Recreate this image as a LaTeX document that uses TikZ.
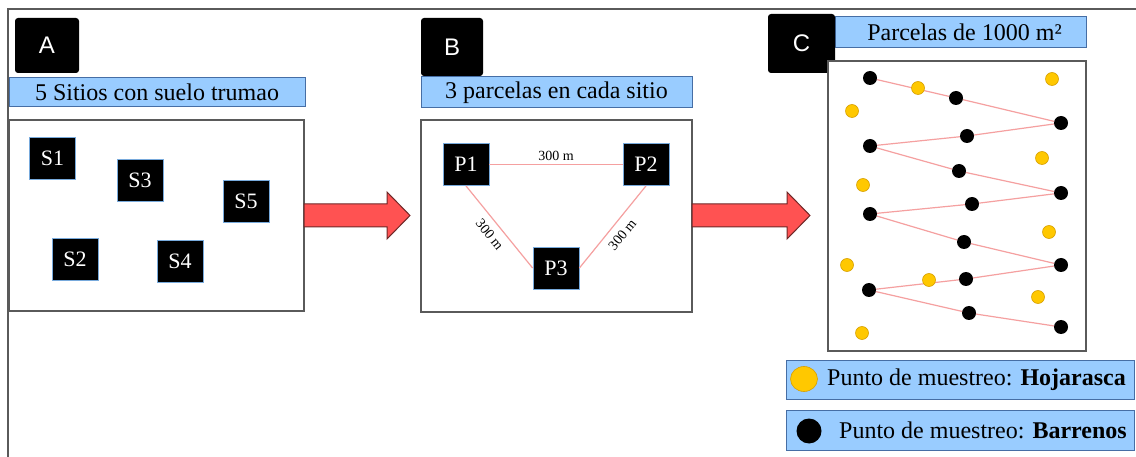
\documentclass[tikz,border=0pt]{standalone}
\usepackage{fontspec}
\usetikzlibrary{shapes.geometric}
\setmainfont{Liberation Serif}
\newfontfamily\arialf{Liberation Sans}
\definecolor{barfill}{RGB}{153,204,255}
\definecolor{bardraw}{RGB}{70,110,165}
\definecolor{sqdraw}{RGB}{120,170,220}
\definecolor{framec}{RGB}{90,90,90}
\definecolor{arrowfill}{RGB}{255,82,82}
\definecolor{arrowdraw}{RGB}{110,40,40}
\definecolor{linkc}{RGB}{245,160,160}
\definecolor{yelfill}{RGB}{255,200,0}
\definecolor{yeldraw}{RGB}{215,160,0}
\tikzset{
 letterbox/.style={fill=black, rounded corners=3pt, text=white, font=\arialf\fontsize{24}{28}\selectfont, inner sep=0pt},
 titlebar/.style={fill=barfill, draw=bardraw, line width=1pt, font=\rmfamily\fontsize{24}{28}\selectfont, inner sep=0pt},
 panel/.style={draw=framec, line width=1.2pt, fill=white, inner sep=0pt},
 site/.style={fill=black, draw=sqdraw, line width=0.8pt, text=white, font=\rmfamily\fontsize{22}{26}\selectfont, minimum width=46pt, minimum height=42pt, inner sep=0pt},
 link/.style={draw=linkc, line width=1.2pt},
 dist/.style={font=\rmfamily\fontsize{14}{16}\selectfont, inner sep=2pt},
 bdot/.style={circle, fill=black, minimum size=14pt, inner sep=0pt},
 ydot/.style={circle, fill=yelfill, draw=yeldraw, line width=0.6pt, minimum size=13pt, inner sep=0pt},
 bigarrow/.style={fill=arrowfill, draw=arrowdraw, line width=1pt},
 legtext/.style={anchor=west, font=\rmfamily\fontsize{24}{28}\selectfont, inner sep=0pt},
}
\begin{document}
\begin{tikzpicture}[x=1pt,y=-1pt]
\useasboundingbox (0,0) rectangle (1136,457);
% outer frame
\draw[framec, line width=1.5pt] (1140,9) -- (8,9) -- (8,460);

% ---------- Panel A ----------
\node[letterbox, minimum width=64pt, minimum height=55pt] (labA) at (47,45.5) {A};
\node[titlebar, minimum width=296pt, minimum height=29pt] (barA) at (157,92.5) {5 Sitios con suelo trumao};
\node[panel, minimum width=295pt, minimum height=191pt] (boxA) at (156.5,215.5) {};
\node[site] (S1) at (52.5,158) {S1};
\node[site] (S3) at (140,180) {S3};
\node[site] (S5) at (246,201) {S5};
\node[site] (S2) at (75,259.5) {S2};
\node[site] (S4) at (180,261) {S4};

\draw[bigarrow] (304,204) -- (387,204) -- (387,192) -- (410,215.5) -- (387,239) -- (387,227) -- (304,227) -- cycle;

% ---------- Panel B ----------
\node[letterbox, minimum width=62pt, minimum height=58pt] (labB) at (452,47) {B};
\node[titlebar, minimum width=271pt, minimum height=31pt] (barB) at (556.5,92.5) {3 parcelas en cada sitio};
\node[panel, minimum width=271pt, minimum height=192pt] (boxB) at (556.5,216) {};
\node[site] (P1) at (466,164.5) {P1};
\node[site] (P2) at (646,164.5) {P2};
\node[site] (P3) at (556,268) {P3};
\draw[link] (P1.east) -- node[dist, above=1pt] {300 m} (P2.west);
\draw[link] (P1.south) -- node[dist, sloped, below=5pt] {300 m} (P3.west);
\draw[link] (P3.east) -- node[dist, sloped, below=5pt] {300 m} (P2.south);

\draw[bigarrow] (692,204) -- (787,204) -- (787,192) -- (810,215.5) -- (787,239) -- (787,227) -- (692,227) -- cycle;

% ---------- Panel C ----------
\node[titlebar, minimum width=251pt, minimum height=31pt] (barC) at (960.5,32.5) {\hspace*{8pt}Parcelas de 1000 m²};
\node[letterbox, minimum width=67pt, minimum height=59pt] (labC) at (801.5,43.5) {C};
\node[panel, minimum width=258pt, minimum height=290pt] (boxC) at (957,206) {};

\node[bdot] (b1) at (870,78) {};
\node[bdot] (b2) at (956,98) {};
\node[bdot] (b3) at (1061,123) {};
\node[bdot] (b4) at (967,136) {};
\node[bdot] (b5) at (870,146) {};
\node[bdot] (b6) at (959,171) {};
\node[bdot] (b7) at (1061,193) {};
\node[bdot] (b8) at (972,204) {};
\node[bdot] (b9) at (870,214) {};
\node[bdot] (b10) at (964,242) {};
\node[bdot] (b11) at (1061,265) {};
\node[bdot] (b12) at (966,279) {};
\node[bdot] (b13) at (869,290) {};
\node[bdot] (b14) at (969,313) {};
\node[bdot] (b15) at (1061,327) {};
\draw[link] (b1) -- (b2) -- (b3) -- (b4) -- (b5) -- (b6) -- (b7) -- (b8) -- (b9) -- (b10) -- (b11) -- (b12) -- (b13) -- (b14) -- (b15);

\node[ydot] (y1) at (918,88) {};
\node[ydot] (y2) at (1052,79) {};
\node[ydot] (y3) at (852,111) {};
\node[ydot] (y4) at (1042,158) {};
\node[ydot] (y5) at (863,185) {};
\node[ydot] (y6) at (1049,232) {};
\node[ydot] (y7) at (847,265) {};
\node[ydot] (y8) at (929,280) {};
\node[ydot] (y9) at (1038,297) {};
\node[ydot] (y10) at (862,333) {};

% legend
\node[titlebar, minimum width=348pt, minimum height=39pt] (leg1) at (960,379.5) {};
\node[ydot, ellipse, minimum width=27pt, minimum height=25pt] (ly) at (804,379) {};
\node[legtext] (lt1) at (827,379.5) {Punto de muestreo: \textbf{Hojarasca}};
\node[titlebar, minimum width=348pt, minimum height=40pt] (leg2) at (960,430) {};
\node[bdot, minimum size=25pt] (lb) at (809,431) {};
\node[legtext] (lt2) at (839,430) {Punto de muestreo: \textbf{Barrenos}};
\end{tikzpicture}
\end{document}
